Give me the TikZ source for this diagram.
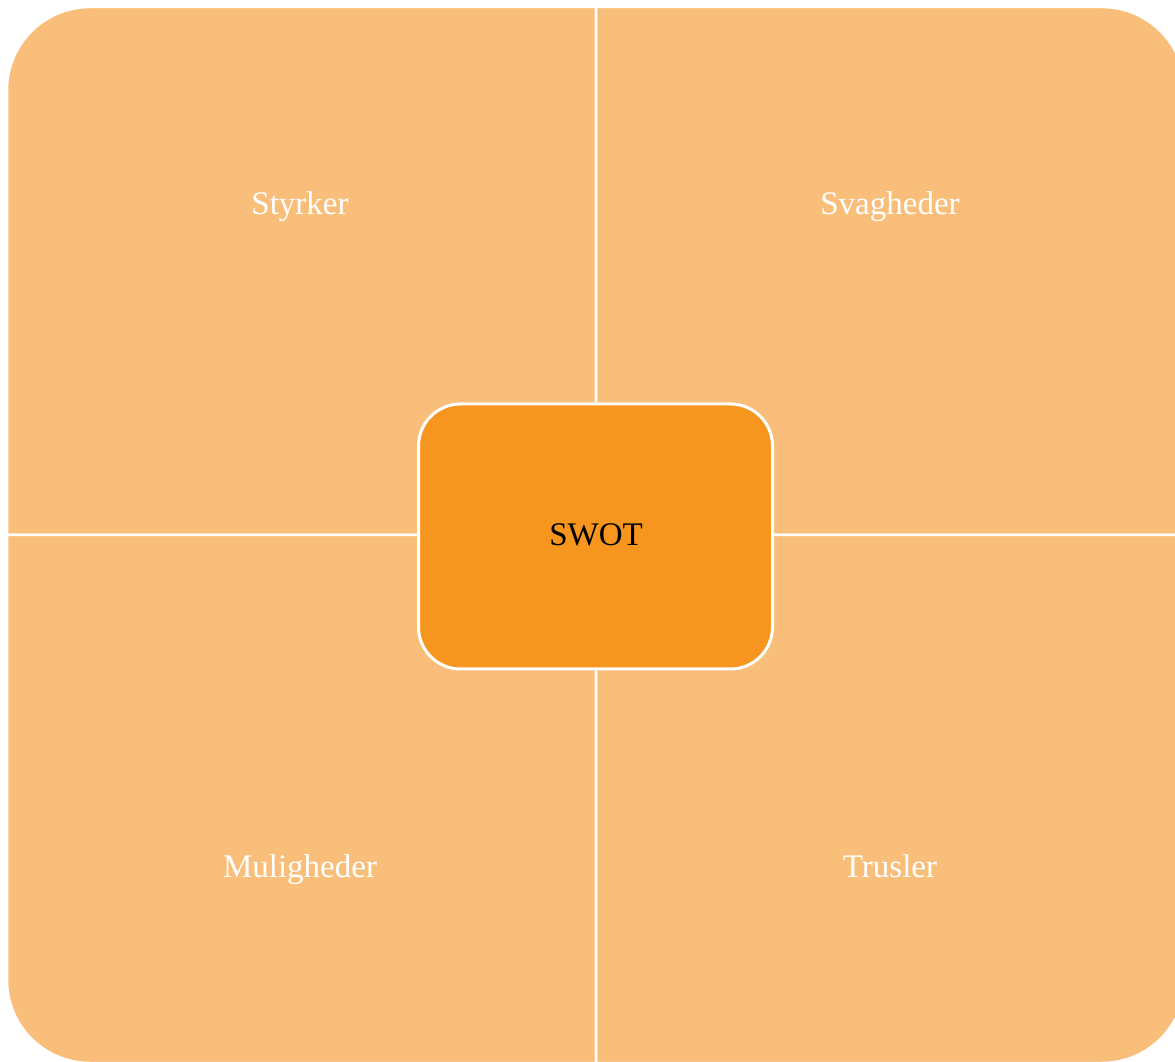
\documentclass[tikz,border=0pt]{standalone}
\usepackage{fontspec}
\setmainfont{Liberation Serif}
\definecolor{quad}{HTML}{F9BF7A}
\definecolor{center}{HTML}{F7961F}
\begin{document}
\begin{tikzpicture}[x=1pt,y=1pt,
  quadrant/.style={fill=quad,draw=white,line width=2.5pt,line join=miter},
  qlabel/.style={text=white,font=\fontsize{33}{39}\selectfont,inner sep=0pt,anchor=base},
  hub/.style={fill=center,draw=white,line width=3pt,rounded corners=42pt,
    minimum width=354pt,minimum height=265pt,text=black}]
\useasboundingbox (0,0) rectangle (1175,1061);
\begin{scope}
\clip (0,0) rectangle (1175,1061);
% Styrker (top-left)
\path[quadrant] (7,526) -- (7,971) arc[start angle=180,end angle=90,radius=83] -- (596,1054) -- (596,526) -- cycle;
% Svagheder (top-right)
\path[quadrant] (596,526) -- (596,1054) -- (1102,1054) arc[start angle=90,end angle=0,radius=83] -- (1185,526) -- cycle;
% Muligheder (bottom-left)
\path[quadrant] (7,526) -- (596,526) -- (596,-2) -- (90,-2) arc[start angle=270,end angle=180,radius=83] -- cycle;
% Trusler (bottom-right)
\path[quadrant] (596,526) -- (1185,526) -- (1185,81) arc[start angle=0,end angle=-90,radius=83] -- (596,-2) -- cycle;
\end{scope}
\node[qlabel] (s) at (300,846) {Styrker};
\node[qlabel] (w) at (890,846) {Svagheder};
\node[qlabel] (o) at (300,184) {Muligheder};
\node[qlabel] (t) at (890,184) {Trusler};
\node[hub] (swot) at (595.5,524.5) {};
\node[qlabel,text=black] (swotlabel) at (596,515) {SWOT};
\end{tikzpicture}
\end{document}
